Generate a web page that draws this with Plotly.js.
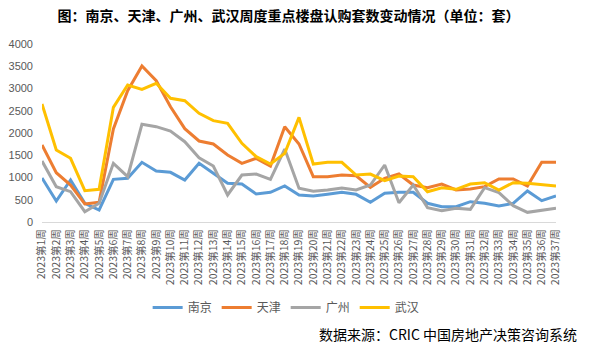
<!DOCTYPE html>
<html><head><meta charset="utf-8">
<script src="https://cdn.plot.ly/plotly-3.0.1.min.js"></script>
<style>html,body{margin:0;padding:0;background:#fff}#chart{width:589px;height:348px}</style>
</head><body><div id="chart"></div>
<script>
const weeks = [];
for (let i = 1; i <= 37; i++) weeks.push('2023第' + i + '周');
const nanjing = [990,472,944,420,270,959,981,1341,1146,1116,944,1318,1094,869,854,629,667,809,607,584,622,667,622,442,644,667,667,420,344,344,457,420,359,420,697,479,584];
const tianjin = [1730,1108,831,404,442,2090,2950,3505,3175,2591,2097,1820,1753,1505,1318,1431,1258,2142,1753,1019,1019,1056,1040,779,981,1078,831,771,854,719,742,794,966,966,809,1341,1341];
const guangzhou = [1370,793,681,232,420,1318,1019,2195,2142,2045,1805,1445,1258,607,1056,1078,959,1640,757,689,719,764,719,831,1281,434,831,322,254,307,285,771,659,367,217,254,307];
const wuhan = [2651,1618,1431,704,734,2577,3078,2981,3116,2779,2726,2442,2277,2217,1768,1468,1303,1543,2352,1303,1341,1341,1056,1078,929,1033,1019,681,771,734,854,884,719,884,869,831,809];
const seriesNames = ['南京','天津','广州','武汉'];
const seriesData = [nanjing, tianjin, guangzhou, wuhan];
const colors = ['#5B9BD5','#ED7D31','#A5A5A5','#FFC000'];
const cjk = '"Noto Sans CJK SC", "Noto Sans", sans-serif';
const traces = seriesNames.map((n, i) => ({
  x: weeks, y: seriesData[i], name: n, type: 'scatter', mode: 'lines',
  line: {color: colors[i], width: 3}
}));
const layout = {
  width: 589, height: 348,
  margin: {l: 42, r: 33, t: 44, b: 126},
  paper_bgcolor: '#fff', plot_bgcolor: '#fff',
  title: {text: '<b>图：南京、天津、广州、武汉周度重点楼盘认购套数变动情况（单位：套）</b>',
          font: {family: cjk, size: 14, color: '#000'}, x: 0.49, xanchor: 'center', y: 0.955, yanchor: 'middle'},
  xaxis: {type: 'category', tickangle: -90, showgrid: false, showline: true, linecolor: '#D9D9D9', linewidth: 1,
          ticks: '', tickfont: {family: cjk, size: 10.5, color: '#595959'}, zeroline: false, ticklabelstandoff: 2},
  yaxis: {range: [0, 4000], dtick: 500, showgrid: false, showline: false, zeroline: false,
          tickfont: {family: 'Liberation Sans, Arial, sans-serif', size: 11, color: '#595959'}, ticks: '', ticklabelstandoff: 8},
  showlegend: true,
  legend: {orientation: 'h', x: 0.475, xanchor: 'center', y: -0.48, yanchor: 'middle',
           font: {family: cjk, size: 12, color: '#595959'}},
  annotations: [{text: '数据来源：CRIC 中国房地产决策咨询系统', xref: 'paper', yref: 'paper',
                 x: 1.045, xanchor: 'right', y: -0.63, yanchor: 'middle', showarrow: false,
                 font: {family: cjk, size: 14, color: '#000'}}]
};
Plotly.newPlot('chart', traces, layout, {displayModeBar: false});
</script></body></html>
